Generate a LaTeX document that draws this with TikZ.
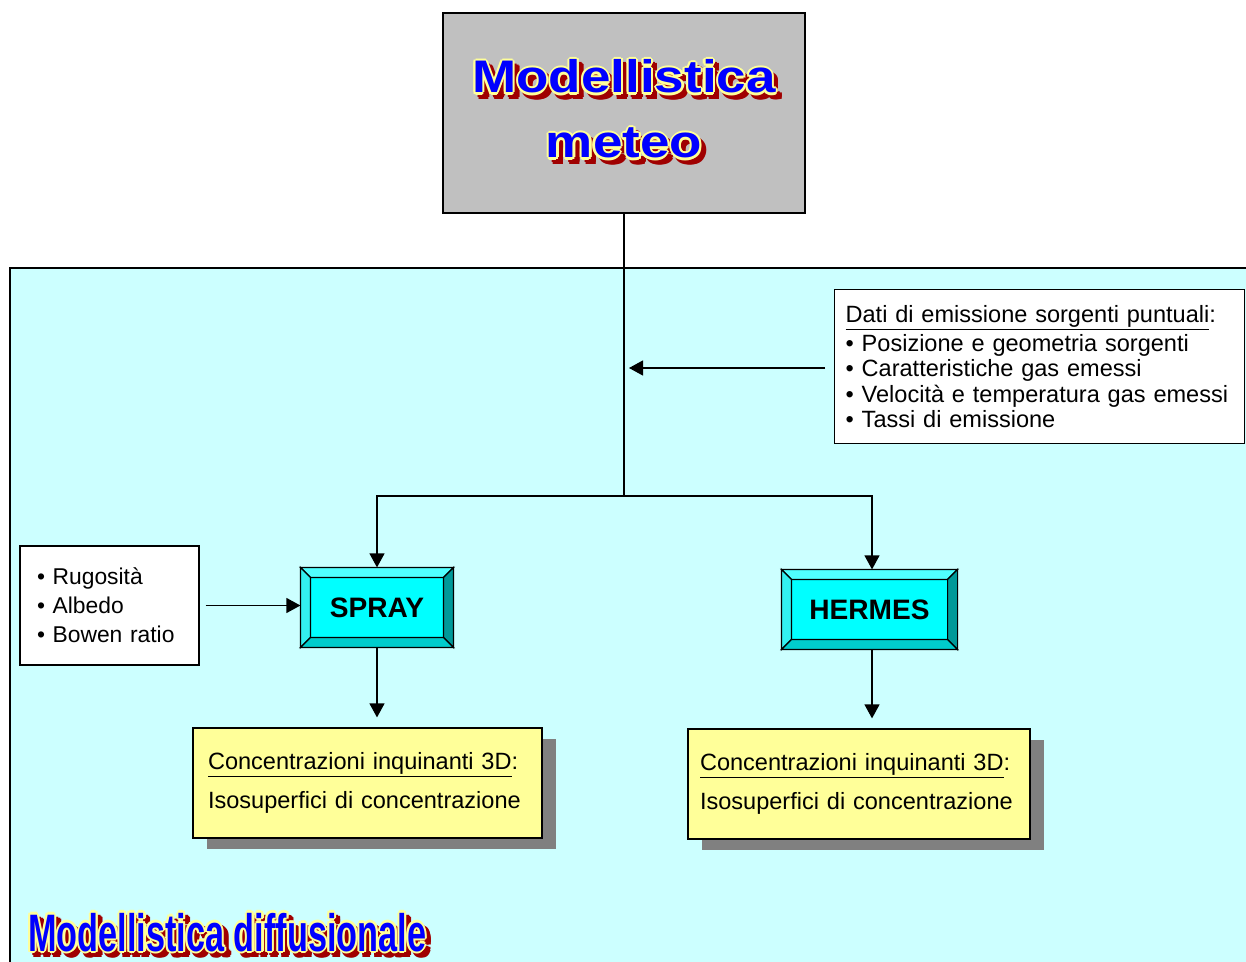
\documentclass[tikz,border=0pt]{standalone}
\usepackage{fontspec}
\setmainfont{Liberation Sans}
\usetikzlibrary{arrows.meta,positioning,shadows}

\definecolor{meteogray}{RGB}{192,192,192}
\definecolor{domaincyan}{RGB}{204,255,255}
\definecolor{modelcyan}{RGB}{0,255,255}
\definecolor{beveltop}{RGB}{80,255,255}
\definecolor{bevelleft}{RGB}{51,240,240}
\definecolor{bevelright}{RGB}{0,153,153}
\definecolor{bevelbottom}{RGB}{0,204,204}
\definecolor{outyellow}{RGB}{255,255,153}
\definecolor{artblue}{RGB}{0,0,255}
\definecolor{artyellow}{RGB}{255,255,153}
\definecolor{artred}{RGB}{160,0,0}

\tikzstyle{meteo} = [draw, line width=1pt, fill=meteogray,
minimum width=7.24cm, minimum height=4cm]
\tikzstyle{info} = [draw, fill=white, align=left,
font=\fontsize{13.4}{14.5}\selectfont]
\tikzstyle{model} = [draw, fill=modelcyan, minimum height=1.58cm,
font=\fontsize{16}{19}\selectfont\bfseries]
\tikzstyle{output} = [draw, fill=outyellow, align=left, minimum height=2.2cm,
inner xsep=0.3cm, font=\fontsize{13.4}{14.5}\selectfont,
drop shadow={shadow xshift=0.28cm, shadow yshift=-0.22cm, fill=gray, opacity=1}]
\tikzstyle{art} = [inner sep=0pt, anchor=base, font=\fontsize{26}{30}\selectfont\bfseries]

% blue lettering with a pale rim and a red shadow
\newcommand{\wordart}[4]{%
  \foreach \a in {0,45,...,315}
    \node(#1-s\a)[art, #3, text=artred] at ([shift={(\a:1.2pt)}, shift={(2.6pt,-2.6pt)}]#2) {#4};
  \foreach \a in {0,45,...,315}
    \node(#1-r\a)[art, #3, text=artyellow] at ([shift={(\a:1.2pt)}]#2) {#4};
  \node(#1)[art, #3, text=artblue] at (#2) {#4};
}

\begin{document}
\begin{tikzpicture}[x=0.02cm, y=-0.02cm, line width=0.7pt,
>={Triangle[length=0.28cm, width=0.3cm]}]
		\useasboundingbox (0,0) rectangle (1246,962);
		\clip (0,0) rectangle (1246,962);
		
		% dispersion modelling area
		\draw[fill=domaincyan] (10,268) rectangle (1300,1000);
		
		\node(meteo)[meteo] at (624,113){};
		\coordinate(meteotop) at (624,93);
		\coordinate(meteobot) at (624,158);
		\wordart{meteoA}{meteotop}{xscale=1.16, transform shape}{Modellistica}
		\wordart{meteoB}{meteobot}{xscale=1.16, transform shape}{meteo}
		
		\node(emission)[info, anchor=north west, text width=7.76cm, inner xsep=0.22cm,
		minimum height=3.08cm] at (834,289){\underline{Dati di emissione sorgenti puntuali}:\\[2pt]
			• Posizione e geometria sorgenti\\
			• Caratteristiche gas emessi\\
			• Velocità e temperatura gas emessi\\
			• Tassi di emissione};
		\node(soil)[info, text width=2.9cm, inner xsep=0.34cm, minimum height=2.38cm,
		font=\fontsize{13}{16.4}\selectfont] at (109.5,605.5){• Rugosità\\ • Albedo\\ • Bowen ratio};
		
		\node(spray)[model, minimum width=3.04cm] at (377,607.5){SPRAY};
		\node(hermes)[model, minimum width=3.5cm] at (869.5,609.5){HERMES};
		% bevelled edges of the model boxes
		\foreach \m in {spray,hermes}{
			\draw[fill=beveltop] (\m.north west) -- (\m.north east) -- ([shift={(-10,10)}]\m.north east) -- ([shift={(10,10)}]\m.north west) -- cycle;
			\draw[fill=bevelleft] (\m.north west) -- ([shift={(10,10)}]\m.north west) -- ([shift={(10,-10)}]\m.south west) -- (\m.south west) -- cycle;
			\draw[fill=bevelright] (\m.north east) -- ([shift={(-10,10)}]\m.north east) -- ([shift={(-10,-10)}]\m.south east) -- (\m.south east) -- cycle;
			\draw[fill=bevelbottom] (\m.south west) -- ([shift={(10,-10)}]\m.south west) -- ([shift={(-10,-10)}]\m.south east) -- (\m.south east) -- cycle;
		}
		
		\node(sprayout)[output, text width=6.38cm] at (367.5,783){\underline{Concentrazioni inquinanti 3D}:\\[8pt]Isosuperfici di concentrazione};
		\node(hermesout)[output, text width=6.36cm, inner xsep=0.24cm] at (859,784){\underline{Concentrazioni inquinanti 3D}:\\[8pt]Isosuperfici di concentrazione};
		
		\coordinate(split) at (624,496);
		\coordinate(feed) at (624,368);
		\draw (meteo.south) -- (split);
		\draw[->] (split) -| (spray.north);
		\draw[->] (split) -| ([xshift=0.05cm]hermes.north);
		\draw[->, shorten <=0.18cm, shorten >=0.1cm] (emission.west |- feed) -- (feed);
		\draw[->, shorten <=0.12cm] (soil.east) -- (soil.east -| spray.west);
		\draw[->, shorten >=0.2cm] (spray.south) -- (spray.south |- sprayout.north);
		\draw[->, shorten >=0.2cm] ([xshift=0.05cm]hermes.south) -- ([xshift=0.05cm]hermes.south |- hermesout.north);
		
		\coordinate(domaintitle) at (28,951);
		\wordart{domain}{domaintitle}{anchor=base west, font=\fontsize{30}{34}\selectfont\bfseries, xscale=0.65, transform shape}{Modellistica diffusionale}
\end{tikzpicture}
\end{document}
